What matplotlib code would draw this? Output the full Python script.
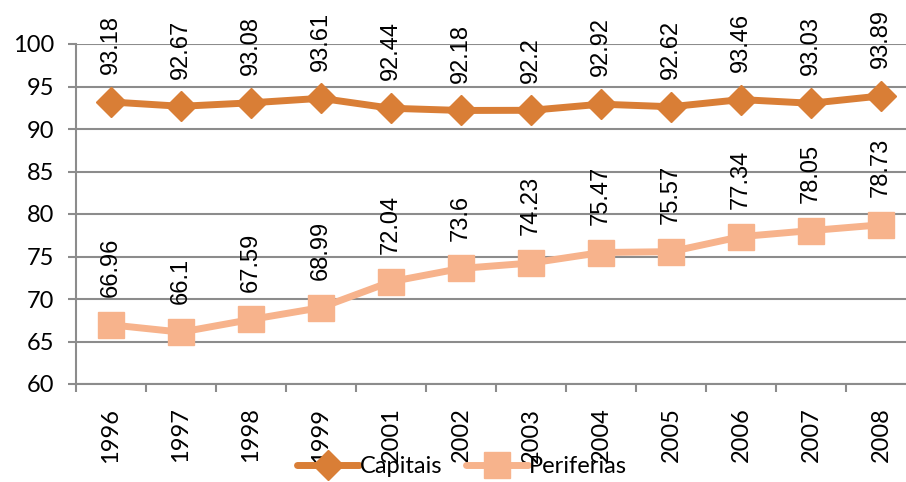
import matplotlib.pyplot as plt
from matplotlib.lines import Line2D

years = ["1996", "1997", "1998", "1999", "2001", "2002", "2003",
         "2004", "2005", "2006", "2007", "2008"]
capitais = [93.18, 92.67, 93.08, 93.61, 92.44, 92.18, 92.2,
            92.92, 92.62, 93.46, 93.03, 93.89]
periferias = [66.96, 66.1, 67.59, 68.99, 72.04, 73.6, 74.23,
              75.47, 75.57, 77.34, 78.05, 78.73]

C_CAP = "#D97E36"
C_PER = "#F7B38C"
GRID = "#8C8C8C"
TICK_FONT = "Lato"
LABEL_FONT = "Liberation Sans"

fig = plt.figure(figsize=(9.06, 4.82), dpi=100)
ax = fig.add_axes([76 / 906, 98 / 482, 840 / 906, 340 / 482])

x = list(range(len(years)))
ax.plot(x, capitais, color=C_CAP, lw=5, marker="D", ms=15,
        mec=C_CAP, mfc=C_CAP, zorder=3, solid_capstyle="round")
ax.plot(x, periferias, color=C_PER, lw=5, marker="s", ms=19,
        mec=C_PER, mfc=C_PER, zorder=3, solid_capstyle="round")

# rotated data labels above each point
for series in (capitais, periferias):
    for xi, v in zip(x, series):
        ax.annotate(f"{v:g}", (xi, v), xytext=(0, 20), textcoords="offset points",
                    rotation=90, ha="center", va="bottom", fontsize=17,
                    family=LABEL_FONT, annotation_clip=False)

ax.set_xlim(-0.5, len(years) - 0.5)
ax.set_ylim(60, 100)
ax.set_yticks(range(60, 101, 5))
ax.set_yticklabels([str(t) for t in range(60, 101, 5)], family=TICK_FONT, fontsize=17)
ax.set_xticks(x)
ax.set_xticklabels(years, rotation=90, family=TICK_FONT, fontsize=17)
ax.set_xticks([i - 0.5 for i in range(len(years) + 1)], minor=True)
ax.tick_params(axis="x", which="major", length=0, pad=17)
ax.tick_params(axis="x", which="minor", length=6, width=1.5, color=GRID)
ax.tick_params(axis="y", length=6, width=1.5, color=GRID, pad=10)

ax.grid(axis="y", color=GRID, lw=1.5)
ax.set_axisbelow(True)
for s in ("top", "right"):
    ax.spines[s].set_visible(False)
for s in ("left", "bottom"):
    ax.spines[s].set_color(GRID)
    ax.spines[s].set_linewidth(1.5)

handles = [
    Line2D([], [], color=C_CAP, lw=5, marker="D", ms=15, solid_capstyle="round"),
    Line2D([], [], color=C_PER, lw=5, marker="s", ms=19, solid_capstyle="round"),
]
fig.legend(handles, ["Capitais", "Periferias"], loc="center",
           bbox_to_anchor=(0.51, 0.032), ncol=2, frameon=False,
           prop={"family": TICK_FONT, "size": 17}, handlelength=2.6,
           handletextpad=0.05, columnspacing=1.0)

fig.savefig("out.png", dpi=100)
